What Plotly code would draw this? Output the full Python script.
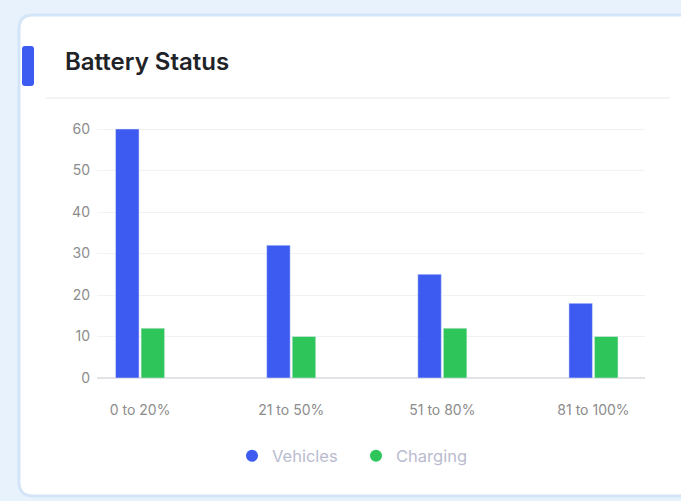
import plotly.graph_objects as go

# Battery level buckets and vehicle counts
categories = ["0 to 20%", "21 to 50%", "51 to 80%", "81 to 100%"]
vehicles = [60, 32, 25, 18]
charging = [12, 10, 12, 10]
y_ticks = [0, 10, 20, 30, 40, 50, 60]

BLUE = "#3d5af1"
GREEN = "#2ec55a"
W, H = 681, 501
FONT = "Inter, Noto Sans, sans-serif"


def px(x):
    return x / W


def py(y):
    return 1 - y / H


def rounded_rect(x0, y0, x1, y1, r):
    return (
        f"M {px(x0 + r)},{py(y0)} L {px(x1 - r)},{py(y0)} "
        f"Q {px(x1)},{py(y0)} {px(x1)},{py(y0 + r)} "
        f"L {px(x1)},{py(y1 - r)} Q {px(x1)},{py(y1)} {px(x1 - r)},{py(y1)} "
        f"L {px(x0 + r)},{py(y1)} Q {px(x0)},{py(y1)} {px(x0)},{py(y1 - r)} "
        f"L {px(x0)},{py(y0 + r)} Q {px(x0)},{py(y0)} {px(x0 + r)},{py(y0)} Z"
    )


fig = go.Figure()
fig.add_trace(go.Bar(x=categories, y=vehicles, name="Vehicles", marker_color=BLUE,
                     showlegend=False))
fig.add_trace(go.Bar(x=categories, y=charging, name="Charging", marker_color=GREEN,
                     showlegend=False))
# Round legend markers
for name, color in [("Vehicles", BLUE), ("Charging", GREEN)]:
    fig.add_trace(go.Scatter(x=[None], y=[None], mode="markers", name=name,
                             marker=dict(symbol="circle", size=11, color=color)))

shapes = [
    # card
    dict(type="path", xref="paper", yref="paper", layer="below",
         path=rounded_rect(19, 15, 720, 496, 14),
         fillcolor="white", line=dict(color="#d3e5f7", width=3)),
    # accent bar
    dict(type="path", xref="paper", yref="paper", layer="below",
         path=rounded_rect(22, 46, 34, 86, 3),
         fillcolor=BLUE, line=dict(width=0)),
    # header separator
    dict(type="line", xref="paper", yref="paper", layer="below",
         x0=px(46), x1=px(670), y0=py(98), y1=py(98),
         line=dict(color="#f0f1f3", width=1.5)),
]

fig.update_layout(
    width=W, height=H,
    margin=dict(l=0, r=0, t=0, b=0, autoexpand=False),
    paper_bgcolor="#e7f2fc",
    plot_bgcolor="rgba(0,0,0,0)",
    barmode="group", bargap=0.662, bargroupgap=0.08,
    font=dict(family=FONT),
    shapes=shapes,
    annotations=[dict(text="Battery Status", xref="paper", yref="paper",
                      x=px(63), y=py(62), xanchor="left", yanchor="middle",
                      showarrow=False,
                      font=dict(size=24, color="#1f2328", weight=600, family=FONT))],
    xaxis=dict(domain=[px(97), px(645)], range=[-0.285, 3.341], automargin=False,
               showgrid=False, showline=False, zeroline=False,
               tickfont=dict(size=14, color="#8c8c8c"), ticklabelstandoff=22),
    yaxis=dict(domain=[py(378), py(120.7)], range=[0, 62], automargin=False,
               tickvals=y_ticks, showgrid=True, gridcolor="#f1f2f4", gridwidth=1,
               zeroline=True, zerolinecolor="#e2e4e8", zerolinewidth=1.5,
               showline=False, tickfont=dict(size=14, color="#8c8c8c"),
               ticklabelstandoff=6),
    legend=dict(orientation="h", x=px(232), y=py(456), xanchor="left", yanchor="middle",
                font=dict(size=16.5, color="#b9bbcf"), itemsizing="constant",
                entrywidth=79, bgcolor="rgba(0,0,0,0)"),
)

fig.write_html("out.html")
